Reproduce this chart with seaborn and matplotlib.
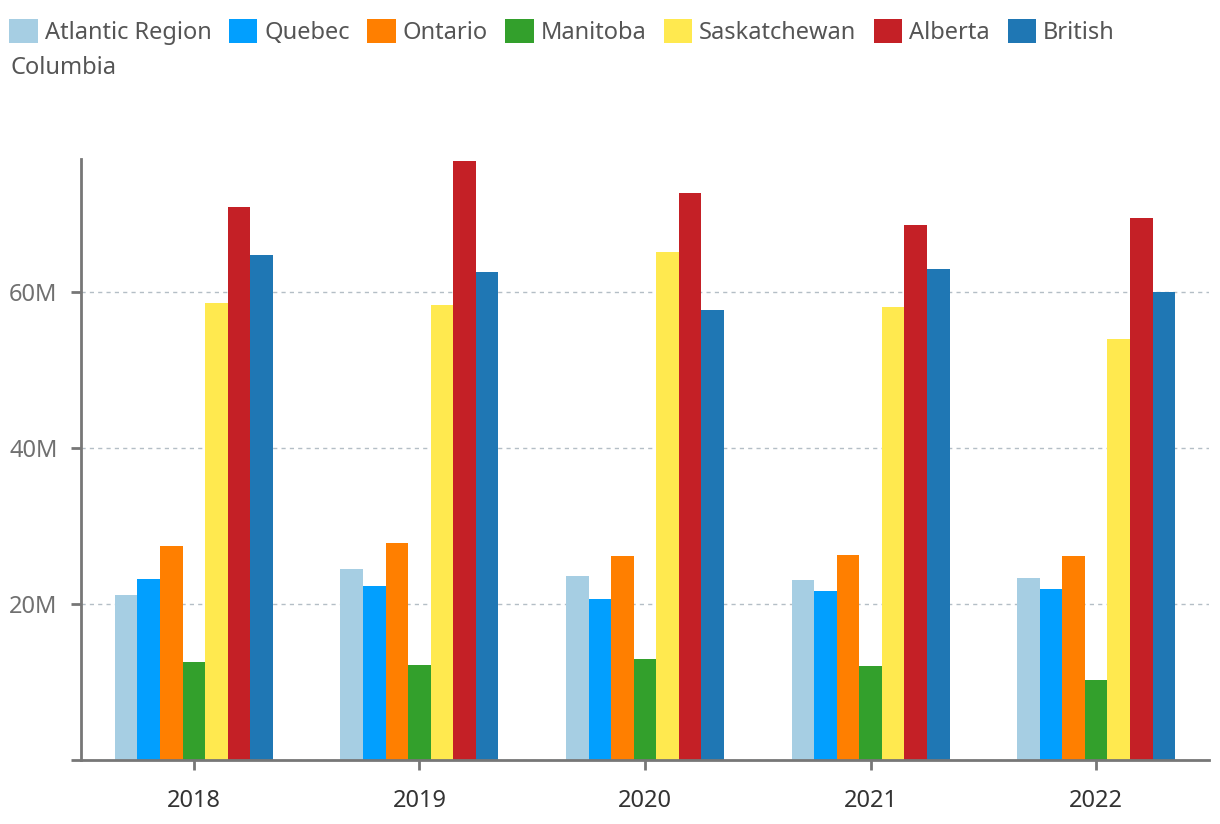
import pandas as pd
import seaborn as sns
import matplotlib.pyplot as plt
from matplotlib.ticker import FuncFormatter

years = ["2018", "2019", "2020", "2021", "2022"]
regions = ["Atlantic Region", "Quebec", "Ontario", "Manitoba",
           "Saskatchewan", "Alberta", "British Columbia"]

# values in millions
atlantic = [21.2, 24.5, 23.6, 23.0, 23.3]
quebec = [23.2, 22.3, 20.6, 21.7, 21.9]
ontario = [27.4, 27.8, 26.1, 26.3, 26.1]
manitoba = [12.6, 12.2, 13.0, 12.0, 10.3]
saskatchewan = [58.5, 58.3, 65.1, 58.1, 54.0]
alberta = [70.9, 76.8, 72.7, 68.6, 69.4]
british_columbia = [64.7, 62.5, 57.6, 62.9, 60.0]

colors = ["#a6cee3", "#029ffe", "#ff7f00", "#33a02c",
          "#ffe94f", "#c42026", "#1f77b4"]

series = [atlantic, quebec, ontario, manitoba, saskatchewan, alberta, british_columbia]
rows = []
for region, vals in zip(regions, series):
    for y, v in zip(years, vals):
        rows.append({"year": y, "region": region, "value": v * 1e6})
df = pd.DataFrame(rows)

sns.set_theme(style="white")
plt.rcParams['font.family'] = ['Noto Sans', 'DejaVu Sans']

fig = plt.figure(figsize=(12.2, 8.24), dpi=100)
ax = fig.add_axes([81 / 1220, 64 / 824, 1128 / 1220, 601 / 824])

sns.barplot(data=df, x="year", y="value", hue="region", hue_order=regions,
            palette=colors, width=0.7, gap=0, saturation=1, linewidth=0, ax=ax)

ax.set_xlim(-0.5, 4.5)
ax.set_ylim(0, 77e6)
ax.set_yticks([0, 20e6, 40e6, 60e6])
ax.yaxis.set_major_formatter(FuncFormatter(lambda v, p: "" if v == 0 else f"{int(v / 1e6)}M"))
ax.set_xlabel("")
ax.set_ylabel("")

ax.grid(axis="y", color="#b4bec6", linestyle=(0, (3, 3)), linewidth=1.0)
ax.set_axisbelow(True)
for s in ["top", "right"]:
    ax.spines[s].set_visible(False)
for s in ["left", "bottom"]:
    ax.spines[s].set_color("#777777")
    ax.spines[s].set_linewidth(2)

ax.tick_params(axis="y", left=True, length=7, width=2, color="#777777",
               labelsize=17, labelcolor="#707070", pad=10)
ax.tick_params(axis="x", bottom=True, length=7, width=2, color="#777777",
               labelsize=17, labelcolor="#333333", pad=14)

handles, labels = ax.get_legend_handles_labels()
ax.get_legend().remove()
labels = [l if l != "British Columbia" else "British" for l in labels]
fig.legend(handles, labels, loc="center left", bbox_to_anchor=(0.0, 1 - 32 / 824),
           ncol=7, frameon=False, fontsize=17, handlelength=1.19, handleheight=1.19,
           handletextpad=0.3, columnspacing=0.75, borderaxespad=0,
           labelcolor="#555555")
fig.text(10 / 1220, 1 - 68 / 824, "Columbia", fontsize=17, color="#555555",
         va="center", ha="left")

fig.savefig("out.png", dpi=100)
